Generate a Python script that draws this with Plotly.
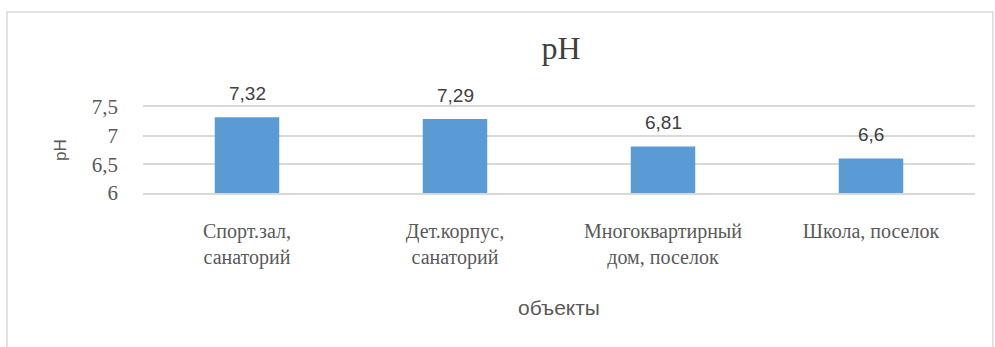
import plotly.graph_objects as go

categories = ["Спорт.зал, санаторий", "Дет.корпус, санаторий",
              "Многоквартирный дом, поселок", "Школа, поселок"]
tick_labels = ["Спорт.зал,<br>санаторий", "Дет.корпус,<br>санаторий",
               "Многоквартирный<br>дом, поселок", "Школа, поселок"]
values = [7.32, 7.29, 6.81, 6.6]
value_labels = ["7,32", "7,29", "6,81", "6,6"]
y_ticks = [6, 6.5, 7, 7.5]
y_tick_labels = ["6", "6,5", "7", "7,5"]

SERIF = "Liberation Serif"
SANS = "Liberation Sans"

fig = go.Figure()
fig.add_trace(go.Bar(x=categories, y=values, marker_color="#5B9BD5",
                     marker_line_width=0, cliponaxis=False))

for c, v, t in zip(categories, values, value_labels):
    fig.add_annotation(x=c, y=v, text=t, showarrow=False, yanchor="middle",
                       yshift=24, font=dict(family=SANS, size=19, color="#404040"))

fig.add_shape(type="rect", xref="paper", yref="paper", x0=-0.1635, x1=1.0215,
              y0=-2.2, y1=2.105, line=dict(color="#d9d9d9", width=1.5), layer="below")

fig.update_layout(
    width=995, height=347,
    font=dict(family=SERIF, size=21, color="#595959"),
    margin=dict(l=143, r=20, t=107, b=154),
    paper_bgcolor="white", plot_bgcolor="white",
    bargap=0.69, showlegend=False,
    title=dict(text="pH", x=0.5025, xref="paper", y=1 - 48/347, yanchor="middle",
               xanchor="center",
               font=dict(family=SERIF, size=32, color="#404040")),
    xaxis=dict(tickvals=categories, ticktext=tick_labels, showgrid=False,
               showline=True, mirror=True, linecolor="#d9d9d9", linewidth=1.5,
               ticks="", ticklabelstandoff=19,
               tickfont=dict(family=SERIF, size=20, color="#595959"),
               title=dict(text="объекты", standoff=33,
                          font=dict(family=SANS, size=21, color="#595959"))),
    yaxis=dict(range=[6, 7.5], tickvals=y_ticks, ticktext=y_tick_labels,
               showgrid=True, gridcolor="#d9d9d9", gridwidth=1.5, zeroline=False,
               showline=False, ticks="", ticklabelstandoff=24,
               tickfont=dict(family=SERIF, size=21, color="#595959"),
               title=dict(text="pH", standoff=20,
                          font=dict(family=SANS, size=17, color="#595959"))),
)

fig.write_html("out.html")
